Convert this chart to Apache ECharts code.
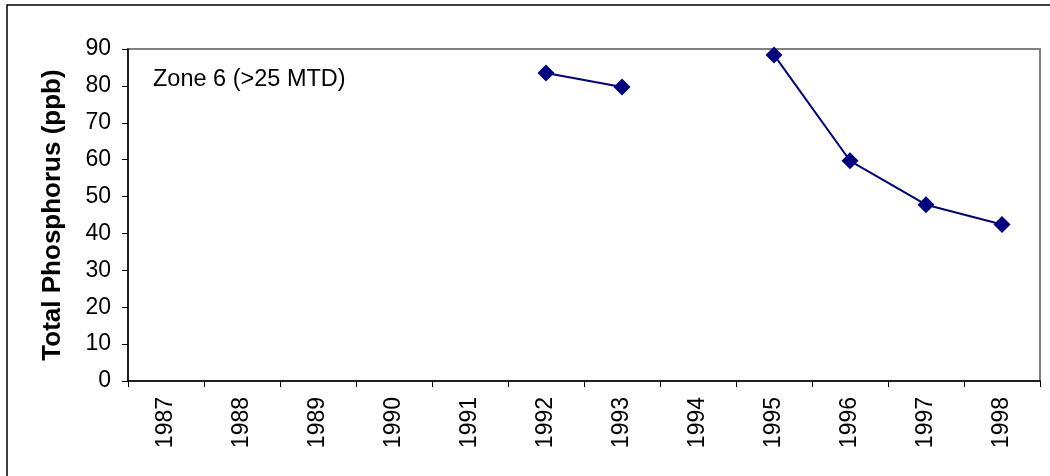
<!DOCTYPE html>
<html>
<head>
<meta charset="utf-8">
<script src="https://cdn.jsdelivr.net/npm/echarts@6/dist/echarts.min.js"></script>
<style>
  html, body { margin: 0; padding: 0; background: #fff; }
  #chart { width: 1050px; height: 476px; }
</style>
</head>
<body>
<div id="chart"></div>
<script>
// Sampling years along the x axis
const years = ['1987', '1988', '1989', '1990', '1991', '1992', '1993', '1994', '1995', '1996', '1997', '1998'];
// Total phosphorus (ppb); null = no sample that year
const phosphorus = [null, null, null, null, null, 83.5, 79.7, null, 88.4, 59.7, 47.8, 42.4];
// Y axis ticks
const yMin = 0, yMax = 90, yStep = 10;
const zoneLabel = 'Zone 6 (>25 MTD)';
const yTitle = 'Total Phosphorus (ppb)';

const font = 'Liberation Sans, Arial, sans-serif';
const chart = echarts.init(document.getElementById('chart'), null, { renderer: 'canvas' });

chart.setOption({
  animation: false,
  backgroundColor: '#fff',
  grid: { left: 128, right: 10, top: 49, bottom: 95, show: true, borderColor: '#808080', borderWidth: 2 },
  graphic: [
    { type: 'rect', shape: { x: 7, y: 5, width: 1100, height: 520 },
      style: { fill: 'none', stroke: '#000', lineWidth: 1.5 }, silent: true, z: 0 },
    { type: 'text', left: 153, top: 68,
      style: { text: zoneLabel, font: '23.5px ' + font, fill: '#000' }, z: 10 }
  ],
  xAxis: {
    type: 'category',
    data: years,
    boundaryGap: true,
    axisLine: { lineStyle: { color: '#000', width: 1.5 } },
    axisTick: { show: true, alignWithLabel: false, length: 6, lineStyle: { color: '#000', width: 1 } },
    axisLabel: { rotate: 90, color: '#000', fontFamily: font, fontSize: 23, margin: 16, interval: 0 },
    splitLine: { show: false }
  },
  yAxis: {
    type: 'value',
    min: yMin, max: yMax, interval: yStep,
    name: yTitle,
    nameLocation: 'middle',
    nameGap: 62,
    nameRotate: 90,
    nameTextStyle: { color: '#000', fontFamily: font, fontSize: 26, fontWeight: 'bold' },
    axisLine: { show: true, lineStyle: { color: '#000', width: 1.5 } },
    axisTick: { show: true, length: 6, lineStyle: { color: '#000', width: 1 } },
    axisLabel: { color: '#000', fontFamily: font, fontSize: 23, margin: 17 },
    splitLine: { show: false }
  },
  series: [{
    type: 'line',
    data: phosphorus,
    connectNulls: false,
    symbol: 'diamond',
    symbolSize: 17,
    showAllSymbol: true,
    itemStyle: { color: '#000080' },
    lineStyle: { color: '#000080', width: 2 },
    z: 5
  }]
});
</script>
</body>
</html>
